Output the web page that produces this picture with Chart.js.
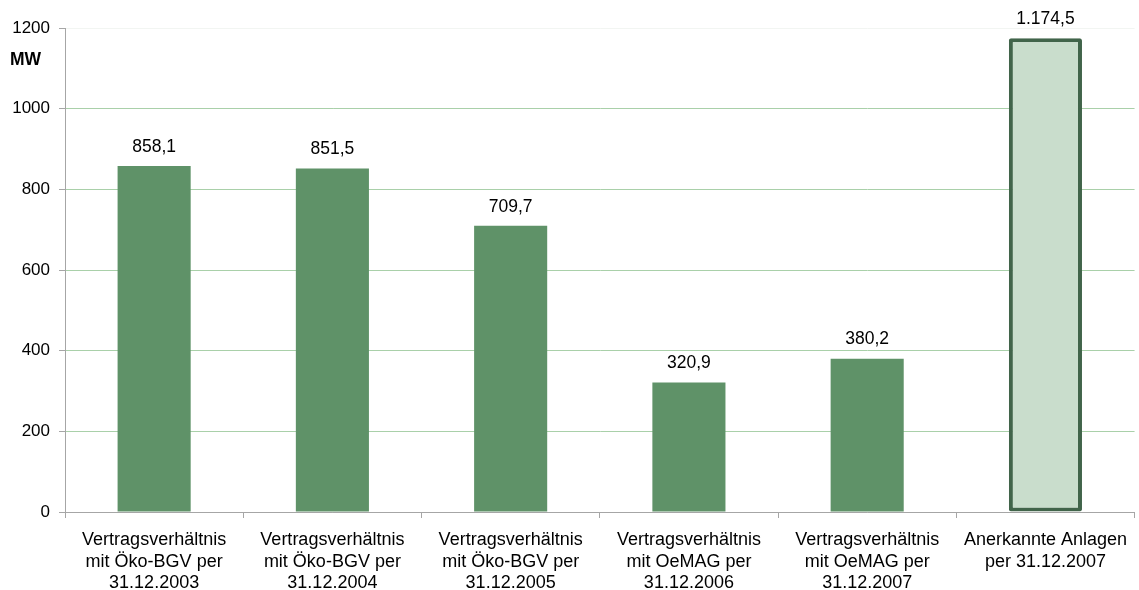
<!DOCTYPE html>
<html>
<head>
<meta charset="utf-8">
<script src="https://cdn.jsdelivr.net/npm/chart.js@4/dist/chart.umd.min.js"></script>
<style>
html,body{margin:0;padding:0;background:#fff;}
#wrap{width:1139px;height:590px;position:relative;}
</style>
</head>
<body>
<div id="wrap"><canvas id="c" width="1139" height="590"></canvas></div>
<script>
const categories = [
  ["Vertragsverhältnis", "mit Öko-BGV per", "31.12.2003"],
  ["Vertragsverhältnis", "mit Öko-BGV per", "31.12.2004"],
  ["Vertragsverhältnis", "mit Öko-BGV per", "31.12.2005"],
  ["Vertragsverhältnis", "mit OeMAG per", "31.12.2006"],
  ["Vertragsverhältnis", "mit OeMAG per", "31.12.2007"],
  ["Anerkannte Anlagen", "per 31.12.2007"]
];
const values = [858.1, 851.5, 709.7, 320.9, 380.2, 1174.5];
const yMin = 0, yMax = 1200, yStep = 200;
const unitLabel = "MW";

const FONT = "'Liberation Sans', Arial, sans-serif";
const fmt = v => v.toLocaleString('de-DE', {minimumFractionDigits:1, maximumFractionDigits:1});

const labelPlugin = {
  id: 'labels',
  afterDatasetsDraw(chart) {
    const ctx = chart.ctx;
    const meta = chart.getDatasetMeta(0);
    ctx.save();
    ctx.fillStyle = '#000';
    ctx.font = '17.5px ' + FONT;
    ctx.textAlign = 'center';
    ctx.textBaseline = 'middle';
    meta.data.forEach((bar, i) => {
      ctx.fillText(fmt(values[i]), bar.x, bar.y - 19);
    });
    ctx.font = 'bold 17.5px ' + FONT;
    ctx.textAlign = 'left';
    ctx.fillText(unitLabel, 10, 60);
    ctx.restore();
  }
};

new Chart(document.getElementById('c'), {
  type: 'bar',
  data: {
    labels: categories,
    datasets: [{
      data: values,
      backgroundColor: values.map((v, i) => i === values.length - 1 ? '#c9ddcc' : '#5f9268'),
      borderColor: values.map((v, i) => i === values.length - 1 ? '#41644a' : '#5f9268'),
      borderWidth: values.map((v, i) => i === values.length - 1 ? 4 : 0),
      borderRadius: values.map((v, i) => i === values.length - 1 ? 2 : 0),
      borderSkipped: false,
      barPercentage: 0.41,
      categoryPercentage: 1.0
    }]
  },
  options: {
    responsive: false,
    animation: false,
    events: [],
    layout: { padding: { top: 28, right: 0, left: 0, bottom: 0 } },
    plugins: { legend: { display: false }, tooltip: { enabled: false } },
    scales: {
      x: {
        offset: true,
        grid: { display: true, drawOnChartArea: false, offset: true, tickLength: 6, color: '#a6a6a6' },
        border: { color: '#a6a6a6', width: 1 },
        ticks: { color: '#000', font: { family: FONT, size: 18, lineHeight: 1.17 }, padding: 12, maxRotation: 0, autoSkip: false },
        afterFit(s) { s.height = 78; }
      },
      y: {
        min: yMin, max: yMax,
        grid: {
          color: ctx => (ctx.tick && ctx.tick.value === yMax) ? '#f2f5f2' : '#a9d0a9',
          tickColor: '#a6a6a6',
          tickLength: 6
        },
        border: { color: '#a6a6a6', width: 1 },
        ticks: { stepSize: yStep, color: '#000', font: { family: FONT, size: 17 }, padding: 9, callback: v => String(v) },
        afterFit(s) { s.width = 65; }
      }
    }
  },
  plugins: [labelPlugin]
});
</script>
</body>
</html>
